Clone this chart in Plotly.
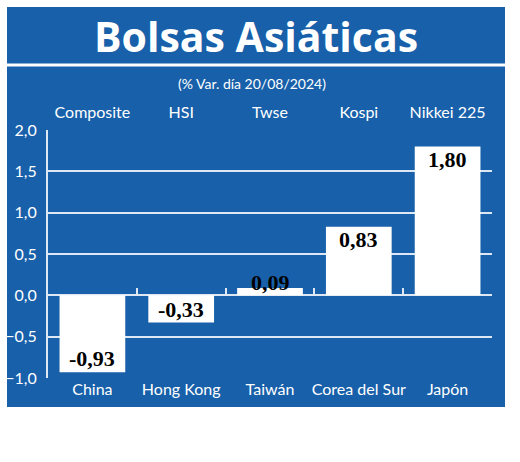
import plotly.graph_objects as go

countries = ["China", "Hong Kong", "Taiwán", "Corea del Sur", "Japón"]
indices = ["Composite", "HSI", "Twse", "Kospi", "Nikkei 225"]
values = [-0.93, -0.33, 0.09, 0.83, 1.80]
y_ticks = [-1.0, -0.5, 0.0, 0.5, 1.0, 1.5, 2.0]
title = "Bolsas Asiáticas"
subtitle = "(% Var. día 20/08/2024)"

BLUE = "#1860aa"
GRID = "#dde8f4"
COND = "Lato, Roboto, sans-serif"

W, H = 520, 462
L, R, T, B = 48, 28, 130, 84
pw, ph = W - L - R, H - T - B
yr = [y_ticks[0], y_ticks[-1]]

def px_x(px):
    return (px - L) / pw

def px_y(py):
    return (H - B - py) / ph

labels = [f"{v:.2f}".replace(".", ",") for v in values]
unit_px = ph / (yr[1] - yr[0])

fig = go.Figure()
fig.add_trace(go.Bar(
    x=countries, y=values, width=0.74,
    marker=dict(color="white", line=dict(width=0)),
    cliponaxis=False, hoverinfo="skip",
))
fig.add_trace(go.Bar(x=countries, y=[None]*len(countries), xaxis="x2", showlegend=False, hoverinfo="skip"))
fig.add_trace(go.Bar(x=countries, y=[None]*len(countries), xaxis="x3", showlegend=False, hoverinfo="skip"))

annotations = []
for c, v, t in zip(countries, values, labels):
    fits = abs(v) * unit_px > 24
    if fits and v > 0:
        ya, ys = "top", 2
    elif fits:
        ya, ys = "bottom", -1
    else:
        ya, ys = "bottom", -9
    annotations.append(dict(
        text=t, x=c, y=v, xref="x", yref="y", xanchor="center", yanchor=ya, yshift=ys,
        showarrow=False,
        font=dict(family="Liberation Serif, Times New Roman, serif", size=22, color="black", weight="bold")))

annotations += [
    dict(text=title, xref="paper", yref="paper", x=px_x(256), y=px_y(36),
         xanchor="center", yanchor="middle", showarrow=False,
         font=dict(family="Open Sans, Lato, sans-serif", size=41, color="white", weight="bold")),
    dict(text=subtitle, xref="paper", yref="paper", x=px_x(252), y=px_y(83),
         xanchor="center", yanchor="middle", showarrow=False,
         font=dict(family=COND, size=14, color="white")),
]

fig.update_layout(
    width=W, height=H,
    margin=dict(l=L, r=R, t=T, b=B, pad=0),
    paper_bgcolor="white", plot_bgcolor="rgba(0,0,0,0)",
    showlegend=False, separators=", ", barmode="overlay",
    xaxis=dict(type="category", categoryarray=countries, showgrid=False, zeroline=False,
               showline=False, ticks="", ticklen=0, automargin=False, ticklabelstandoff=0,
               tickfont=dict(family=COND, size=16, color="white")),
    xaxis2=dict(type="category", categoryarray=countries, overlaying="x", side="top", matches="x",
                tickvals=countries, ticktext=indices, showgrid=False, zeroline=False,
                showline=False, ticks="", ticklabelstandoff=8, automargin=False,
                tickfont=dict(family=COND, size=16, color="white")),
    xaxis3=dict(type="category", categoryarray=countries, overlaying="x", matches="x",
                anchor="free", position=(0 - yr[0]) / (yr[1] - yr[0]), automargin=False,
                tickson="boundaries", ticks="inside", ticklen=7, tickwidth=1.5, tickcolor=GRID,
                showticklabels=False, showgrid=False, zeroline=False, showline=False),
    yaxis=dict(range=yr, tickvals=y_ticks, tickformat=".1f", showgrid=True, gridcolor=GRID,
               gridwidth=2, zeroline=False, showline=True, linecolor=GRID, linewidth=2,
               ticks="", ticklabelstandoff=6, automargin=False,
               tickfont=dict(family=COND, size=16, color="white")),
    shapes=[
        dict(type="rect", xref="paper", yref="paper", layer="below",
             x0=px_x(7), x1=px_x(505), y0=px_y(407), y1=px_y(7),
             fillcolor=BLUE, line=dict(width=0)),
        dict(type="line", xref="paper", yref="paper", layer="below",
             x0=px_x(7), x1=px_x(505), y0=px_y(65), y1=px_y(65),
             line=dict(color="white", width=3)),
    ],
    annotations=annotations,
)

fig.write_html("out.html")
